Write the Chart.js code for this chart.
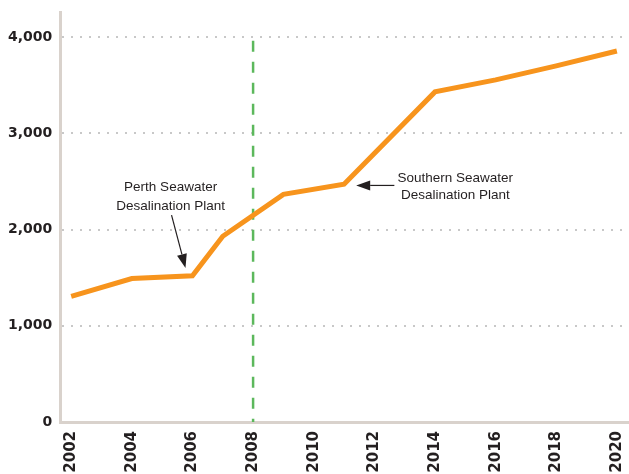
<!DOCTYPE html>
<html><head><meta charset="utf-8">
<script src="https://cdn.jsdelivr.net/npm/chart.js@4/dist/chart.umd.min.js"></script>
<style>html,body{margin:0;padding:0;background:#fff}#wrap{width:629px;height:474px}</style>
</head><body><div id="wrap"><canvas id="c" width="629" height="474"></canvas></div>
<script>
const years = [2002, 2004, 2006, 2007, 2009, 2011, 2014, 2016, 2018, 2020];
const capacity = [1305, 1490, 1520, 1930, 2365, 2470, 3430, 3555, 3700, 3855];
const xTickLabels = [2002, 2004, 2006, 2008, 2010, 2012, 2014, 2016, 2018, 2020];
const yTickValues = [0, 1000, 2000, 3000, 4000];
const markerYear = 2008;
const markerTop = 3960;
const notes = [
  {lines: ["Perth Seawater", "Desalination Plant"], x: 2005.28, y: [2437, 2240], from: [2005.31, 2150], to: [2005.77, 1600]},
  {lines: ["Southern Seawater", "Desalination Plant"], x: 2014.67, y: [2531, 2354], from: [2012.66, 2458], to: [2011.4, 2458]}
];

const annot = {
  id: 'annot',
  afterDatasetsDraw(chart) {
    const {ctx, scales: {x, y}} = chart;
    ctx.save();
    ctx.fillStyle = '#231f20';
    ctx.strokeStyle = '#231f20';
    ctx.font = '13.5px "Liberation Sans", Arial, sans-serif';
    ctx.textAlign = 'center';
    ctx.textBaseline = 'middle';
    notes.forEach(n => {
      n.lines.forEach((t, i) => ctx.fillText(t, x.getPixelForValue(n.x), y.getPixelForValue(n.y[i])));
      const x1 = x.getPixelForValue(n.from[0]), y1 = y.getPixelForValue(n.from[1]);
      const x2 = x.getPixelForValue(n.to[0]), y2 = y.getPixelForValue(n.to[1]);
      const ang = Math.atan2(y2 - y1, x2 - x1);
      const hl = 14, hw = 5;
      const bx = x2 - hl * Math.cos(ang), by = y2 - hl * Math.sin(ang);
      ctx.lineWidth = 1.2;
      ctx.beginPath(); ctx.moveTo(x1, y1); ctx.lineTo(bx, by); ctx.stroke();
      ctx.beginPath();
      ctx.moveTo(x2, y2);
      ctx.lineTo(bx + hw * Math.sin(ang), by - hw * Math.cos(ang));
      ctx.lineTo(bx - hw * Math.sin(ang), by + hw * Math.cos(ang));
      ctx.closePath(); ctx.fill();
    });
    ctx.restore();
  }
};

new Chart(document.getElementById('c'), {
  type: 'line',
  data: {
    datasets: [
      {
        data: [{x: markerYear, y: markerTop}, {x: markerYear, y: 0}],
        borderColor: '#5cb85c', borderWidth: 2.5, borderDash: [11, 10],
        pointRadius: 0, order: 2
      },
      {
        data: years.map((yr, i) => ({x: yr, y: capacity[i]})),
        borderColor: '#f7941d', borderWidth: 5, pointRadius: 0,
        tension: 0, borderJoinStyle: 'miter', order: 1
      }
    ]
  },
  options: {
    responsive: false, animation: false,
    layout: {padding: {top: 12, right: 0, left: 0, bottom: 0}},
    plugins: {legend: {display: false}, tooltip: {enabled: false}},
    scales: {
      x: {
        type: 'linear', min: 2001.64, max: 2020.4,
        afterBuildTicks(s) { s.ticks = xTickLabels.map(v => ({value: v})); },
        afterFit(s) { s.paddingLeft = 0; s.paddingRight = 0; s.height = 52; },
        ticks: {
          minRotation: 90, maxRotation: 90, padding: 9,
          color: '#231f20', font: {family: '"DejaVu Sans"', weight: 'bold', size: 15},
          callback: v => String(v)
        },
        grid: {display: false, drawTicks: false},
        border: {color: '#d9d2cc', width: 3}
      },
      y: {
        type: 'linear', min: 0, max: 4260,
        afterBuildTicks(s) { s.ticks = yTickValues.map(v => ({value: v})); },
        afterFit(s) { s.paddingTop = 0; s.paddingBottom = 0; },
        ticks: {
          padding: 8, color: '#231f20',
          font: {family: '"DejaVu Sans"', weight: 'bold', size: 14},
          callback: v => v.toLocaleString('en-US')
        },
        grid: {
          drawTicks: false, color: ctx => ctx.tick && ctx.tick.value === 0 ? 'rgba(0,0,0,0)' : '#c8c8c8',
          lineWidth: 2
        },
        border: {color: '#d9d2cc', width: 3, dash: [2, 7]}
      }
    }
  },
  plugins: [annot]
});
</script></body></html>
